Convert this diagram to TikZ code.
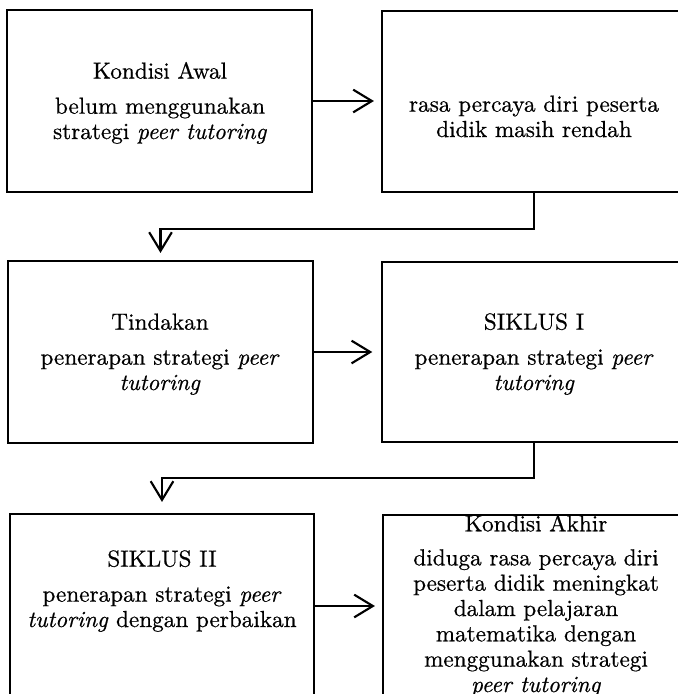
\documentclass[tikz,border=0pt]{standalone}
\usepackage{fontspec}
\setmainfont{lmroman10}[Extension=.otf, UprightFont=*-regular,
  ItalicFont=*-italic, BoldFont=*-bold, BoldItalicFont=*-bolditalic,
  FakeBold=0.6]
\usetikzlibrary{arrows.meta,fit}

\tikzset{
  kotak/.style={draw, line width=1.6pt, inner sep=0pt},
  isi/.style={align=center, inner sep=0pt, anchor=base,
    font=\fontsize{17.4pt}{19pt}\selectfont},
  panah/.style={line width=1.6pt, -{Straight Barb[length=14pt,width=17pt]},
    shorten >=5.25pt},
}

\begin{document}
\begin{tikzpicture}[x=0.75pt,y=-0.75pt]
  \useasboundingbox (0,0) rectangle (678,694);
  \clip (0,0) rectangle (678,694);

  % kotak-kotak
  \node[kotak, fit={(7,10) (312,192)}] (awal) {};
  \node[kotak, fit={(382,11) (686,192)}] (rasa) {};
  \node[kotak, fit={(8,261) (313,443)}] (tindakan) {};
  \node[kotak, fit={(382,262) (686,442)}] (siklus1) {};
  \node[kotak, fit={(10,514) (314,698)}] (siklus2) {};
  \node[kotak, fit={(383,515) (690,698)}] (akhir) {};

  % teks (base = baris terakhir)
  \node[isi] (awal-t) at (160,139) {Kondisi Awal\\[7.3pt]
    belum menggunakan\\ strategi \textit{peer tutoring}};
  \node[isi] (rasa-t) at (534,137) {rasa percaya diri peserta\\ didik masih rendah};
  \node[isi] (tindakan-t) at (160,390) {Tindakan\\[7.3pt]
    penerapan strategi \textit{peer}\\ \textit{tutoring}};
  \node[isi] (siklus1-t) at (534,390) {SIKLUS I\\[7.3pt]
    penerapan strategi \textit{peer}\\ \textit{tutoring}};
  \node[isi] (siklus2-t) at (162,627) {SIKLUS II\\[7.3pt]
    penerapan strategi \textit{peer}\\ \textit{tutoring} dengan perbaikan};
  \node[isi] (akhir-t) at (536,692) {Kondisi Akhir\\[6.5pt]
    diduga rasa percaya diri\\ peserta didik meningkat\\ dalam pelajaran\\
    matematika dengan\\ menggunakan strategi\\ \textit{peer tutoring}};

  % panah
  \draw[panah] (awal.east) -- (awal.east -| rasa.west);
  \draw[panah] (rasa.south) -- ++(0,36) -| (tindakan.north);
  \draw[panah, shorten >=6.5pt] (tindakan.east) -- (tindakan.east -| siklus1.west);
  \draw[panah, shorten >=8.25pt] (siklus1.south) -- ++(0,35) -| (siklus2.north);
  \draw[panah] (siklus2.east) -- (siklus2.east -| akhir.west);
\end{tikzpicture}
\end{document}
